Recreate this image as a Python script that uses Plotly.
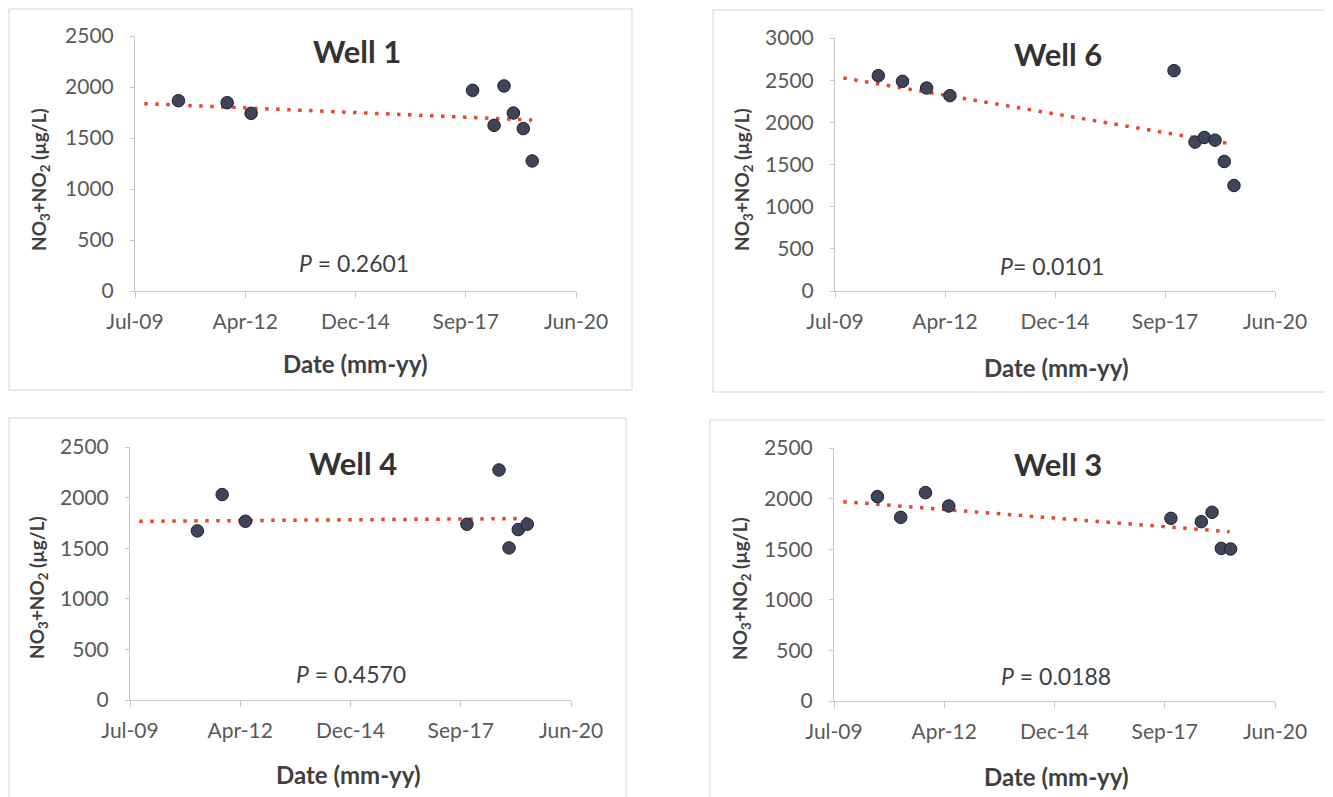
import plotly.graph_objects as go

# browser page adds an 8px body margin, so the figure is sized to fill the rest
OFF = 8
W, H = 1333 - OFF, 797 - OFF

# ---------------- data ----------------
tick_dates = ["2009-07-06", "2012-04-01", "2014-12-27", "2017-09-22", "2020-06-18"]
tick_labels = ["Jul-09", "Apr-12", "Dec-14", "Sep-17", "Jun-20"]

well1_dates = ["2010-08-04", "2011-10-20", "2012-05-24", "2017-11-23", "2018-06-06",
               "2018-09-04", "2018-11-28", "2019-02-26", "2019-05-18"]
well1_vals = [1866, 1846, 1742, 1967, 1624, 2010, 1745, 1592, 1275]
well1_trend_dates = ["2009-09-28", "2019-05-18"]
well1_trend_vals = [1837, 1676]

well6_dates = ["2010-08-04", "2011-03-12", "2011-10-17", "2012-05-16", "2017-12-13",
               "2018-06-22", "2018-09-15", "2018-12-21", "2019-03-15", "2019-06-11"]
well6_vals = [2553, 2486, 2407, 2316, 2613, 1766, 1821, 1789, 1536, 1251]
well6_trend_dates = ["2009-09-20", "2019-04-21"]
well6_trend_vals = [2526, 1750]

well4_dates = ["2011-03-09", "2011-10-20", "2012-05-18", "2017-11-17", "2018-09-04",
               "2018-12-04", "2019-02-26", "2019-05-18"]
well4_vals = [1671, 2030, 1766, 1737, 2273, 1503, 1684, 1737]
well4_trend_dates = ["2009-09-28", "2019-05-18"]
well4_trend_vals = [1766, 1793]

well3_dates = ["2010-08-04", "2011-03-03", "2011-10-14", "2012-05-12", "2017-11-17",
               "2018-08-20", "2018-11-25", "2019-02-17", "2019-05-12"]
well3_vals = [2020, 1815, 2059, 1927, 1805, 1772, 1865, 1508, 1502]
well3_trend_dates = ["2009-09-28", "2019-05-03"]
well3_trend_vals = [1970, 1673]

titles = ["Well 1", "Well 6", "Well 4", "Well 3"]
p_texts = ["<i>P</i> = 0.2601", "<i>P</i>= 0.0101", "<i>P</i> = 0.4570", "<i>P</i> = 0.0188"]
y_max = [2500, 3000, 2500, 2500]

# ---------------- layout helpers (screen pixels -> paper) ----------------
def px(x):
    return (x - OFF) / W

def py(y):
    return 1 - (y - OFF) / H

# plot-area pixel boxes: (left, right, top, bottom)
boxes = [(135, 576, 36, 291), (835, 1275, 38, 291), (130, 571, 447, 700), (834, 1275, 448, 701)]
# chart-area borders
borders = [(9, 632, 9, 390), (713, 1330, 10, 392), (9, 626, 418, 805), (710, 1330, 420, 805)]
title_pos = [(357, 51), (1058, 54), (353, 463), (1058, 464)]
p_pos = [(354, 263), (1052, 266), (351, 674), (1056, 676)]
xt_pos = [(355, 364), (1056, 367), (349, 774), (1056, 776)]
yt_pos = [(40, 180), (743, 180), (38, 588), (741, 589)]

series = [
    (well1_dates, well1_vals, well1_trend_dates, well1_trend_vals),
    (well6_dates, well6_vals, well6_trend_dates, well6_trend_vals),
    (well4_dates, well4_vals, well4_trend_dates, well4_trend_vals),
    (well3_dates, well3_vals, well3_trend_dates, well3_trend_vals),
]

FONT = "Lato"
TXT = "#404040"
TICK = "#595959"
AXIS = "#c9c9c9"

fig = go.Figure()
layout = dict(
    width=W, height=H,
    margin=dict(l=0, r=0, t=0, b=0, pad=0, autoexpand=False),
    paper_bgcolor="white", plot_bgcolor="white",
    showlegend=False,
    font=dict(family=FONT, color=TXT),
)
annotations = []
shapes = []

def ann(text, pos, size, color, angle=0):
    return dict(text=text, x=px(pos[0]), y=py(pos[1]), xref="paper", yref="paper",
                xanchor="center", yanchor="middle", showarrow=False, textangle=angle,
                font=dict(family=FONT, size=size, color=color))

for i, (dts, vals, tdts, tvals) in enumerate(series):
    n = "" if i == 0 else str(i + 1)
    xa, ya = "x" + n, "y" + n
    fig.add_trace(go.Scatter(
        x=tdts, y=tvals, mode="lines", xaxis=xa, yaxis=ya,
        line=dict(color="#E24A2B", width=3.5, dash="3.5px,7.5px"),
        hoverinfo="skip"))
    fig.add_trace(go.Scatter(
        x=dts, y=vals, mode="markers", xaxis=xa, yaxis=ya,
        marker=dict(size=12.5, color="#40445a", line=dict(color="#1c1f2b", width=1))))
    l, r, t, b = boxes[i]
    layout["xaxis" + n] = dict(
        domain=[px(l), px(r)], anchor=ya, type="date",
        range=[tick_dates[0], tick_dates[-1]],
        tickmode="array", tickvals=tick_dates, ticktext=tick_labels,
        showgrid=False, zeroline=False, showline=True, linecolor=AXIS, linewidth=1,
        ticks="outside", ticklen=6, tickcolor=AXIS,
        tickfont=dict(family=FONT, size=21, color=TICK),
        ticklabelstandoff=6, automargin=False,
    )
    layout["yaxis" + n] = dict(
        domain=[py(b), py(t)], anchor=xa,
        range=[0, y_max[i]], dtick=500, tick0=0,
        showgrid=False, zeroline=False, showline=True, linecolor=AXIS, linewidth=1,
        ticks="outside", ticklen=4, tickcolor=AXIS,
        tickfont=dict(family=FONT, size=21, color=TICK),
        ticklabelstandoff=12, automargin=False,
    )
    bl, br, bt, bb = borders[i]
    shapes.append(dict(type="rect", xref="paper", yref="paper",
                       x0=px(bl), x1=px(br), y0=py(bb), y1=py(bt),
                       line=dict(color="#d4d4d4", width=1)))
    annotations.append(ann("<b>" + titles[i] + "</b>", title_pos[i], 31, "#333333"))
    annotations.append(ann(p_texts[i], p_pos[i], 23, TXT))
    annotations.append(ann("<b>Date (mm-yy)</b>", xt_pos[i], 24, TXT))
    annotations.append(ann("<b>NO<sub>3</sub>+NO<sub>2</sub> (µg/L)</b>", yt_pos[i], 19, TXT, -90))

layout["annotations"] = annotations
layout["shapes"] = shapes
fig.update_layout(**layout)
fig.write_html("out.html")
